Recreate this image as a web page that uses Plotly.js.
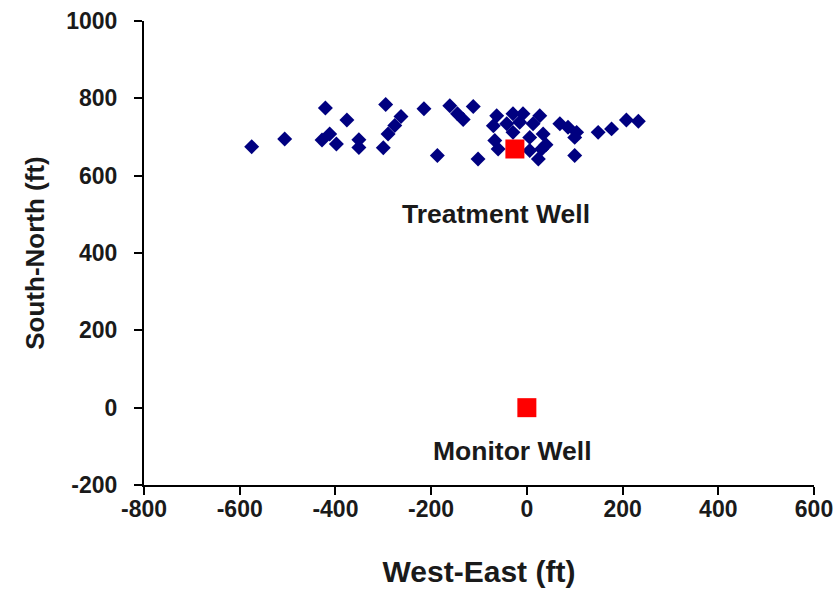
<!DOCTYPE html>
<html>
<head>
<meta charset="utf-8">
<script src="https://cdn.plot.ly/plotly-3.0.1.min.js"></script>
<style>html,body{margin:0;padding:0;background:#fff;}#chart{width:839px;height:590px;}</style>
</head>
<body>
<div id="chart"></div>
<script>
// Microseismic event locations (ft)
const eventX = [-575,-506,-421,-412,-428,-398,-376,-351,-351,-295,-300,-290,-276,-263,-215,-187,-161,-145,-133,-112,-102,-63,-29,-8,27,-70,-42,-15,13,34,-67,-60,-29,6,6,31,24,40,69,86,100,104,100,149,177,208,233];
const eventY = [675,695,775,708,692,682,744,693,673,784,672,708,730,753,773,652,781,760,745,779,643,755,760,760,755,729,734,738,734,708,691,669,712,699,665,669,643,680,734,725,699,712,652,712,721,744,741];
// Wells
const wellNames = ["Treatment Well","Monitor Well"];
const wellX = [-25, 0];
const wellY = [669, 0];
// Label positions (data coords)
const labelX = [-65, -29];
const labelY = [502, -111];
// Axis ticks
const xTicks = [-800,-600,-400,-200,0,200,400,600];
const yTicks = [-200,0,200,400,600,800,1000];

const FONT = "Liberation Sans, Arial, sans-serif";

const traces = [
  {x: eventX, y: eventY, type: "scatter", mode: "markers",
   marker: {symbol: "diamond", size: 11.5, color: "#000080"}, hoverinfo: "x+y"},
  {x: wellX, y: wellY, type: "scatter", mode: "markers", text: wellNames,
   marker: {symbol: "square", size: 19, color: "#ff0000"}}
];

const annotations = wellNames.map((t, i) => ({
  x: labelX[i], y: labelY[i], xref: "x", yref: "y", text: "<b>" + t + "</b>",
  showarrow: false, xanchor: "center", yanchor: "middle",
  font: {family: FONT, size: 26.5, color: "#1a1a1a"}
}));

const axisCommon = {
  showgrid: false, zeroline: false, showline: true, linecolor: "#000", linewidth: 2,
  ticks: "outside", ticklen: 8, tickwidth: 2, tickcolor: "#000",
  tickfont: {family: FONT, size: 23, color: "#1a1a1a", weight: "bold"}
};

const layout = {
  width: 839, height: 590,
  margin: {l: 144, r: 25, t: 21, b: 105},
  paper_bgcolor: "#fff", plot_bgcolor: "#fff",
  showlegend: false,
  xaxis: Object.assign({}, axisCommon, {
    range: [-800, 600], tickvals: xTicks, ticktext: xTicks.map(String),
    ticklabelstandoff: -6,
    title: {text: "<b>West-East (ft)</b>", font: {family: FONT, size: 30, color: "#1a1a1a"}, standoff: 40}
  }),
  yaxis: Object.assign({}, axisCommon, {
    range: [-200, 1000], tickvals: yTicks, ticktext: yTicks.map(String),
    ticklabelstandoff: 12,
    title: {text: "<b>South-North (ft)</b>", font: {family: FONT, size: 26, color: "#1a1a1a"}, standoff: 14}
  }),
  annotations: annotations
};

Plotly.newPlot("chart", traces, layout, {displayModeBar: false, staticPlot: true});
</script>
</body>
</html>
